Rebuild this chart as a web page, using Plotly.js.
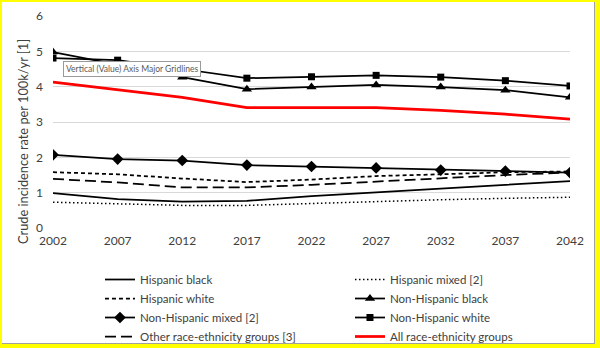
<!DOCTYPE html>
<html><head><meta charset="utf-8">
<script src="https://cdn.plot.ly/plotly-3.0.1.min.js"></script>
<style>
html,body{margin:0;padding:0;background:#ffff00;width:600px;height:348px;overflow:hidden}
#chart{position:absolute;left:2px;top:2px;width:592px;height:341px;background:#fff;border-right:1px solid #a0a0a0;border-bottom:1px solid #a0a0a0}
</style></head><body>
<div id="chart"></div>
<script>
const years = [2002, 2007, 2012, 2017, 2022, 2027, 2032, 2037, 2042];
const hispanicBlack = [0.99, 0.82, 0.75, 0.77, 0.90, 1.00, 1.10, 1.22, 1.33];
const hispanicMixed = [0.73, 0.68, 0.64, 0.64, 0.70, 0.76, 0.80, 0.84, 0.87];
const hispanicWhite = [1.58, 1.52, 1.40, 1.30, 1.37, 1.47, 1.52, 1.58, 1.60];
const nonHispanicBlack = [4.98, 4.62, 4.27, 3.93, 3.99, 4.05, 3.99, 3.90, 3.70];
const nonHispanicMixed = [2.07, 1.95, 1.91, 1.78, 1.74, 1.70, 1.64, 1.61, 1.57];
const nonHispanicWhite = [4.81, 4.75, 4.50, 4.24, 4.28, 4.32, 4.27, 4.17, 4.02];
const otherGroups = [1.39, 1.29, 1.15, 1.15, 1.22, 1.32, 1.40, 1.50, 1.57];
const allGroups = [4.13, 3.92, 3.70, 3.41, 3.41, 3.41, 3.33, 3.22, 3.08];
const yTicks = [0, 1, 2, 3, 4, 5, 6];

const FONT = 'Lato, "Liberation Sans", sans-serif';
function tr(name, y, line, marker) {
  const t = {x: years, y: y, name: name, type: 'scatter',
    mode: marker ? 'lines+markers' : 'lines',
    line: Object.assign({color: '#000', width: 1.75}, line)};
  if (marker) t.marker = marker;
  return t;
}
const data = [
  tr('Hispanic black', hispanicBlack, {}),
  tr('Hispanic mixed [2]', hispanicMixed, {dash: '1.5px,2.5px', width: 1.5}),
  tr('Hispanic white', hispanicWhite, {dash: '4px,3px'}),
  tr('Non-Hispanic black', nonHispanicBlack, {}, {symbol: 'triangle-up', size: 9, color: '#000'}),
  tr('Non-Hispanic mixed [2]', nonHispanicMixed, {}, {symbol: 'diamond', size: 9, color: '#000'}),
  tr('Non-Hispanic white', nonHispanicWhite, {}, {symbol: 'square', size: 7, color: '#000'}),
  tr('Other race-ethnicity groups [3]', otherGroups, {dash: '11px,5px'}),
  tr('All race-ethnicity groups', allGroups, {color: '#ff0000', width: 2.75})
];
const layout = {
  width: 592, height: 341,
  margin: {l: 51, r: 24, t: 14, b: 115},
  paper_bgcolor: '#fff', plot_bgcolor: '#fff',
  font: {family: FONT, size: 11, color: '#404040'},
  showlegend: true,
  legend: {orientation: 'h', xref: 'container', yref: 'container', x: 0.1655, y: 1 - 263/341,
    xanchor: 'left', yanchor: 'top',
    entrywidth: 205, font: {family: FONT, size: 11.5, color: '#404040'}, traceorder: 'normal',
    itemwidth: 30, tracegroupgap: 0},
  xaxis: {range: [2002, 2042], tickvals: years, ticktext: years.map(String),
    showgrid: false, zeroline: false, showline: false, ticks: '', ticklabelstandoff: 4,
    tickfont: {size: 12, color: '#404040'}},
  yaxis: {range: [0, 6], tickvals: yTicks, showgrid: true, gridcolor: '#d9d9d9', gridwidth: 1,
    zeroline: false, showline: false, ticks: '', ticklabelstandoff: 9,
    tickfont: {size: 12, color: '#404040'}},
  annotations: [
    {xref: 'paper', yref: 'paper', x: -0.058, y: 0.4057, xanchor: 'center', yanchor: 'middle',
     textangle: -90, text: 'Crude incidence rate per 100k/yr [1]', showarrow: false,
     font: {family: FONT, size: 12.8, color: '#404040'}},
    {xref: 'paper', yref: 'paper', x: 0.153, y: 0.75, xanchor: 'center', yanchor: 'middle',
    text: 'Vertical (Value) Axis Major Gridlines', showarrow: false,
    font: {family: FONT, size: 8.5, color: '#595959'}, bgcolor: '#fff', bordercolor: '#9a9a9a', borderwidth: 1, borderpad: 2}]
};
Plotly.newPlot('chart', data, layout, {displayModeBar: false, staticPlot: true});
</script></body></html>
